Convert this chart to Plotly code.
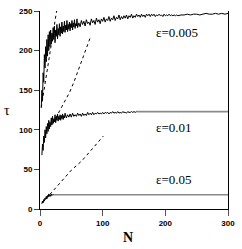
import plotly.graph_objects as go

# ---- data ----
n_005 = list(range(2, 61)) + list(range(62, 221, 2)) + list(range(225, 301, 5))
tau_005 = [128, 150, 138, 172, 160, 195, 178, 205, 186, 214, 193, 220, 200, 224, 205, 226, 208, 222, 212, 229,
           214, 231, 210, 226, 218, 233, 215, 228, 220, 234, 218, 230, 222, 236, 221, 231, 224, 237, 223, 232,
           226, 238, 224, 233, 227, 236, 225, 234, 229, 238, 226, 235, 230, 239, 228, 234, 231, 240, 229,
           235, 230, 238, 233, 237, 231, 239, 234, 236, 232, 240, 235, 238, 233, 241, 236, 239, 234, 240, 237,
           242, 236, 240, 238, 243, 237, 241, 239, 244, 238, 242, 240, 245, 239, 243, 240, 244, 241, 245, 240,
           244, 242, 246, 241, 244, 242, 246, 243, 245, 242, 246, 243, 245, 242, 246, 244, 246, 243, 246, 244,
           246, 243, 245, 244, 246, 244, 245, 243, 246, 244, 245, 244, 246, 244, 245, 244, 245, 244, 245, 244,
           245, 245, 246, 245, 246, 246, 245, 246, 247, 246, 246, 247, 246, 247, 246, 247]

n_001 = list(range(3, 41)) + list(range(42, 155, 2))
tau_001 = [68, 82, 74, 92, 84, 100, 90, 104, 95, 108, 98, 112, 101, 110, 104, 115, 106, 117, 108, 114,
           110, 119, 109, 116, 112, 120, 111, 117, 113, 119, 112, 118, 114, 120, 113, 118, 115, 121,
           115, 119, 116, 120, 116, 121, 117, 119, 117, 121, 118, 120, 117, 121, 118, 120, 118, 122, 119,
           121, 119, 122, 119, 121, 120, 122, 120, 121, 120, 122, 120, 122, 121, 122, 120, 122, 121, 123,
           121, 122, 121, 123, 121, 122, 121, 123, 122, 122, 121, 123, 122, 122, 123, 122, 123, 122, 123]
flat_001_n = [154, 300]
flat_001_tau = [123, 123]

n_05 = list(range(3, 21)) + [22]
tau_05 = [7, 10, 8, 12, 10, 14, 12, 16, 13, 17, 15, 19, 16, 18, 16, 19, 17, 18, 18]
flat_05_n = [22, 300]
flat_05_tau = [18, 18]

dash1_n = [2, 26.5]
dash1_tau = [128, 250]
dash2_n = [20, 28, 47, 54, 80]
dash2_tau = [108, 119, 147, 160, 216]
dash3_n = [3, 50, 67, 101]
dash3_tau = [7, 49, 61, 92]

labels = ["ε=0.005", "ε=0.01", "ε=0.05"]
label_n = [184, 184, 184]
label_tau = [223, 103, 37]

x_ticks = [0, 100, 200, 300]
y_ticks = [0, 50, 100, 150, 200, 250]

fig = go.Figure()
black = dict(color="black", width=1)
gray = dict(color="#8a8a8a", width=1.6)
dash = dict(color="black", width=1, dash="3px,3px")

fig.add_trace(go.Scatter(x=dash1_n, y=dash1_tau, mode="lines", line=dash))
fig.add_trace(go.Scatter(x=dash2_n, y=dash2_tau, mode="lines", line=dash))
fig.add_trace(go.Scatter(x=dash3_n, y=dash3_tau, mode="lines", line=dash))
fig.add_trace(go.Scatter(x=flat_001_n, y=flat_001_tau, mode="lines", line=gray))
fig.add_trace(go.Scatter(x=flat_05_n, y=flat_05_tau, mode="lines", line=gray))
fig.add_trace(go.Scatter(x=n_005, y=tau_005, mode="lines", line=black))
fig.add_trace(go.Scatter(x=n_001, y=tau_001, mode="lines", line=black))
fig.add_trace(go.Scatter(x=n_05, y=tau_05, mode="lines", line=black))

for t, xn, yt in zip(labels, label_n, label_tau):
    fig.add_annotation(x=xn, y=yt, text=t, showarrow=False, xanchor="left", yanchor="middle",
                       borderpad=0, font=dict(family="Liberation Serif", size=13, color="black"))

fig.add_annotation(xref="paper", yref="paper", x=-0.175, y=0.5, text="τ", showarrow=False,
                   xanchor="center", yanchor="middle",
                   font=dict(family="Liberation Serif", size=14, color="black"))
fig.add_annotation(xref="paper", yref="paper", x=0.47, y=-0.145, text="N", showarrow=False,
                   xanchor="center", yanchor="middle",
                   font=dict(family="Liberation Serif", size=14, color="black", weight="bold"))

fig.update_layout(
    width=242, height=249,
    margin=dict(l=40, r=9, t=7, b=40, pad=0),
    paper_bgcolor="white", plot_bgcolor="white",
    showlegend=False,
)
fig.update_xaxes(range=[0, 300], tickvals=x_ticks, showgrid=False, zeroline=False,
                 showline=True, linecolor="black", linewidth=1, mirror=False,
                 ticks="outside", ticklen=6, tickcolor="#555", tickwidth=1,
                 tickfont=dict(family="Liberation Sans", size=8, color="black", weight="bold"))
fig.update_yaxes(range=[0, 250], tickvals=y_ticks, showgrid=False, zeroline=False,
                 showline=True, linecolor="black", linewidth=1, mirror=True,
                 ticks="outside", ticklen=5, tickcolor="#444", tickwidth=1,
                 tickfont=dict(family="Liberation Sans", size=8, color="black", weight="bold"))

# remove the default 8px page margin so the 242x249 figure fills the window exactly
fig.write_html("out.html", config={"displayModeBar": False, "staticPlot": True},
               post_script="document.body.style.margin='0';document.body.style.overflow='hidden';")
